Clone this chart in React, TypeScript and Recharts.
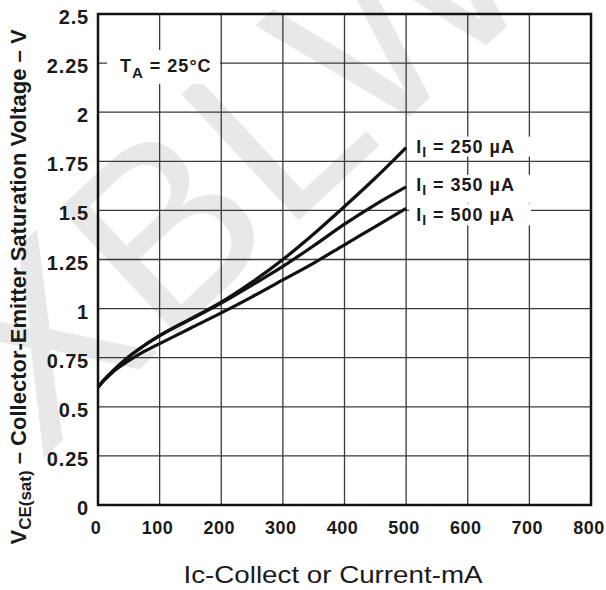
import { LineChart, Line, XAxis, YAxis, CartesianGrid, ReferenceArea, Customized } from "recharts";

const currentMa = [0, 10, 25, 50, 75, 100, 150, 200, 250, 300, 350, 400, 450, 500];
const vce250 = [0.6, 0.638, 0.685, 0.755, 0.812, 0.862, 0.948, 1.033, 1.135, 1.25, 1.38, 1.52, 1.665, 1.82];
const vce350 = [0.6, 0.638, 0.685, 0.755, 0.812, 0.862, 0.945, 1.028, 1.12, 1.215, 1.32, 1.43, 1.53, 1.62];
const vce500 = [0.6, 0.634, 0.68, 0.735, 0.782, 0.822, 0.9, 0.978, 1.06, 1.146, 1.232, 1.325, 1.417, 1.51];

const xTicks = [0, 100, 200, 300, 400, 500, 600, 700, 800];
const yTicks = [0, 0.25, 0.5, 0.75, 1, 1.25, 1.5, 1.75, 2, 2.25, 2.5];

const seriesLabels = ["250 µA", "350 µA", "500 µA"];

const data = currentMa.map((ic, i) => ({
  ic,
  s250: vce250[i],
  s350: vce350[i],
  s500: vce500[i],
}));

const FONT = "'Liberation Sans', Arial, Helvetica, sans-serif";
const INK = "#1a1a1a";

// label placement next to the curve ends (baseline offset, white box top/bottom)
const series = [
  { key: "s250", label: seriesLabels[0], dy: 5, boxTop: -16, boxBottom: 4 },
  { key: "s350", label: seriesLabels[1], dy: 4, boxTop: -16, boxBottom: 12 },
  { key: "s500", label: seriesLabels[2], dy: 13, boxTop: -18, boxBottom: 4 },
];

function XTick({ x, y, payload }: any) {
  return (
    <text x={x - 2} y={y + 29} textAnchor="middle" fontFamily={FONT} fontWeight="bold"
      fontSize={18} letterSpacing={0.5} fill={INK}>
      {payload.value}
    </text>
  );
}

function YTick({ x, y, payload }: any) {
  return (
    <text x={x - 9} y={y + 10} textAnchor="end" fontFamily={FONT} fontWeight="bold"
      fontSize={20} letterSpacing={0.8} fill={INK}>
      {payload.value}
    </text>
  );
}

function endLabel(text: string, dy: number, boxTop: number, boxBottom: number, lastIndex: number) {
  return (props: any) => {
    const { x, y, index } = props;
    if (index !== lastIndex) return null;
    const by = y + dy;
    return (
      <g key={`lbl-${text}`}>
        <rect x={x + 3} y={by + boxTop} width={122} height={boxBottom - boxTop} fill="#fff" />
        <text x={x + 10} y={by} fontFamily={FONT} fontWeight="bold" fontSize={18}
          letterSpacing={1} fill={INK}>
          I
          <tspan fontSize={14} dy={4}>I</tspan>
          <tspan dy={-4}>{` = ${text}`}</tspan>
        </text>
      </g>
    );
  };
}

function Annotations() {
  return (
    <g>
      <rect x={107} y={50} width={113} height={34} fill="#fff" />
      <text x={120} y={72} fontFamily={FONT} fontWeight="bold" fontSize={18} letterSpacing={1} fill={INK}>
        T
        <tspan fontSize={15} dy={6}>A</tspan>
        <tspan dy={-6}>{" = 25°C"}</tspan>
      </text>
      <text transform="translate(26,287) rotate(-90)" textAnchor="middle" fontFamily={FONT}
        fontWeight="bold" fontSize={22} fill={INK}>
        V
        <tspan fontSize={17} dy={5}>CE(sat)</tspan>
        <tspan dy={-5}>{" – Collector-Emitter Saturation Voltage – V"}</tspan>
      </text>
      <text x={333} y={583} textAnchor="middle" fontFamily={FONT} fontSize={24}
        textLength={299} lengthAdjust="spacingAndGlyphs" fill={INK}>
        Ic-Collect or Current-mA
      </text>
    </g>
  );
}

export default function App() {
  const last = currentMa.length - 1;
  return (
    <div style={{ position: "absolute", left: 0, top: 0, width: 606, height: 590, background: "#fff" }}>
      <svg width={606} height={590} style={{ position: "absolute", left: 0, top: 0 }}>
        <text transform="translate(232,162) rotate(-43)" textAnchor="middle" dy={88}
          fontFamily={FONT} fontSize={250} fill="#e8e8e8">
          XBLW
        </text>
      </svg>
      <div style={{ position: "absolute", left: 0, top: 0 }}>
        <LineChart width={606} height={590} data={data}
          margin={{ top: 14, right: 15, bottom: 0, left: 0 }}>
          <CartesianGrid stroke="#3a3a3a" strokeWidth={1.3} />
          <XAxis dataKey="ic" type="number" domain={[0, 800]} ticks={xTicks} height={85}
            axisLine={false} tickLine={false} tickSize={0} tickMargin={0} tick={<XTick />}
            interval={0} />
          <YAxis type="number" domain={[0, 2.5]} ticks={yTicks} width={98}
            axisLine={false} tickLine={false} tickSize={0} tickMargin={0} tick={<YTick />}
            interval={0} />
          <ReferenceArea x1={0} x2={800} y1={0} y2={2.5} fill="none" fillOpacity={0}
            stroke="#111" strokeWidth={2.5} />
          <Customized component={<Annotations />} />
          {series.map((s) => (
            <Line key={s.key} dataKey={s.key} type="monotone" stroke="#111" strokeWidth={3.2}
              dot={false} activeDot={false} isAnimationActive={false}
              label={endLabel(s.label, s.dy, s.boxTop, s.boxBottom, last)} />
          ))}
        </LineChart>
      </div>
    </div>
  );
}
